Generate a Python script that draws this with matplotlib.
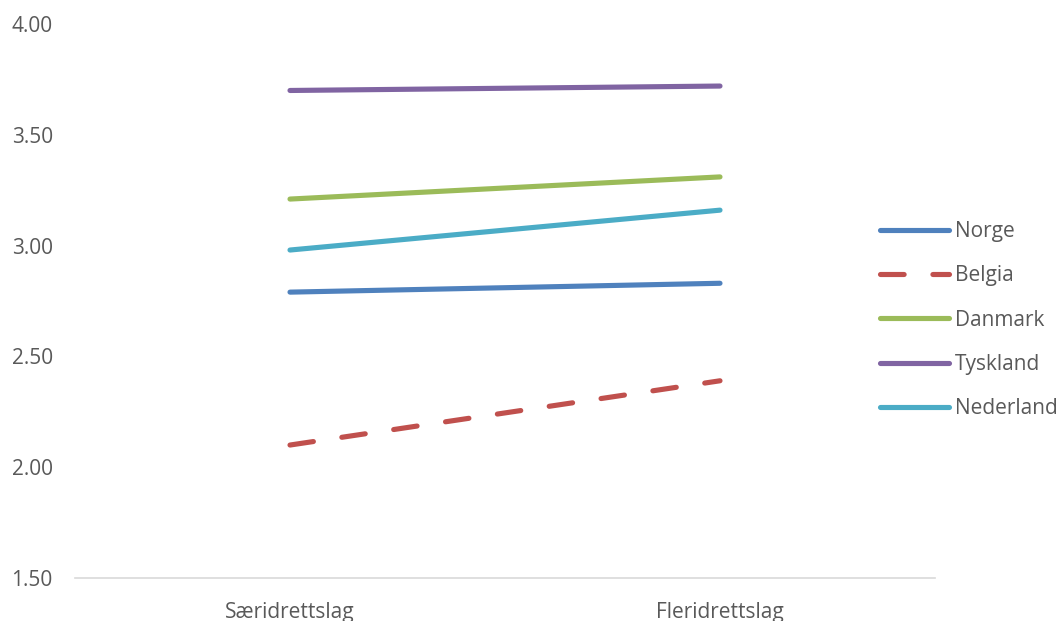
import matplotlib.pyplot as plt

plt.rcParams['font.family'] = ['Open Sans', 'DejaVu Sans']

kategorier = ['Særidrettslag', 'Fleridrettslag']
norge = [2.79, 2.83]
belgia = [2.10, 2.39]
danmark = [3.21, 3.31]
tyskland = [3.70, 3.72]
nederland = [2.98, 3.16]

fig = plt.figure(figsize=(10.59, 6.21), dpi=100)
ax = fig.add_axes([75 / 1059, 1 - 578 / 621, 860 / 1059, 554 / 621])

x = range(len(kategorier))
lw = 3.7
ax.plot(x, norge, color='#4F81BD', lw=lw, solid_capstyle='round', label='Norge')
ax.plot(x, belgia, color='#C0504D', lw=lw, dashes=[4.6, 5.6], dash_capstyle='round', label='Belgia')
ax.plot(x, danmark, color='#9BBB59', lw=lw, solid_capstyle='round', label='Danmark')
ax.plot(x, tyskland, color='#8064A2', lw=lw, solid_capstyle='round', label='Tyskland')
ax.plot(x, nederland, color='#4BACC6', lw=lw, solid_capstyle='round', label='Nederland')

ax.set_xlim(-0.5, 1.5)
ax.set_ylim(1.5, 4.0)
ax.set_yticks([1.5, 2.0, 2.5, 3.0, 3.5, 4.0])
ax.set_yticklabels([f'{v:.2f}' for v in [1.5, 2.0, 2.5, 3.0, 3.5, 4.0]])
ax.set_xticks(list(x))
ax.set_xticklabels(kategorier)
ax.tick_params(axis='both', length=0, labelsize=15, labelcolor='#595959')
ax.tick_params(axis='y', pad=16)
ax.tick_params(axis='x', pad=17)

for s in ['top', 'right', 'left']:
    ax.spines[s].set_visible(False)
ax.spines['bottom'].set_color('#D9D9D9')
ax.spines['bottom'].set_linewidth(1.2)

leg = fig.legend(loc='center left', bbox_to_anchor=(872 / 1059, 1 - 320 / 621),
                 frameon=False, fontsize=15, handlelength=3.3, handletextpad=0.3,
                 labelspacing=1.12, borderaxespad=0)
for t in leg.get_texts():
    t.set_color('#595959')

fig.savefig('out.png', dpi=100)
